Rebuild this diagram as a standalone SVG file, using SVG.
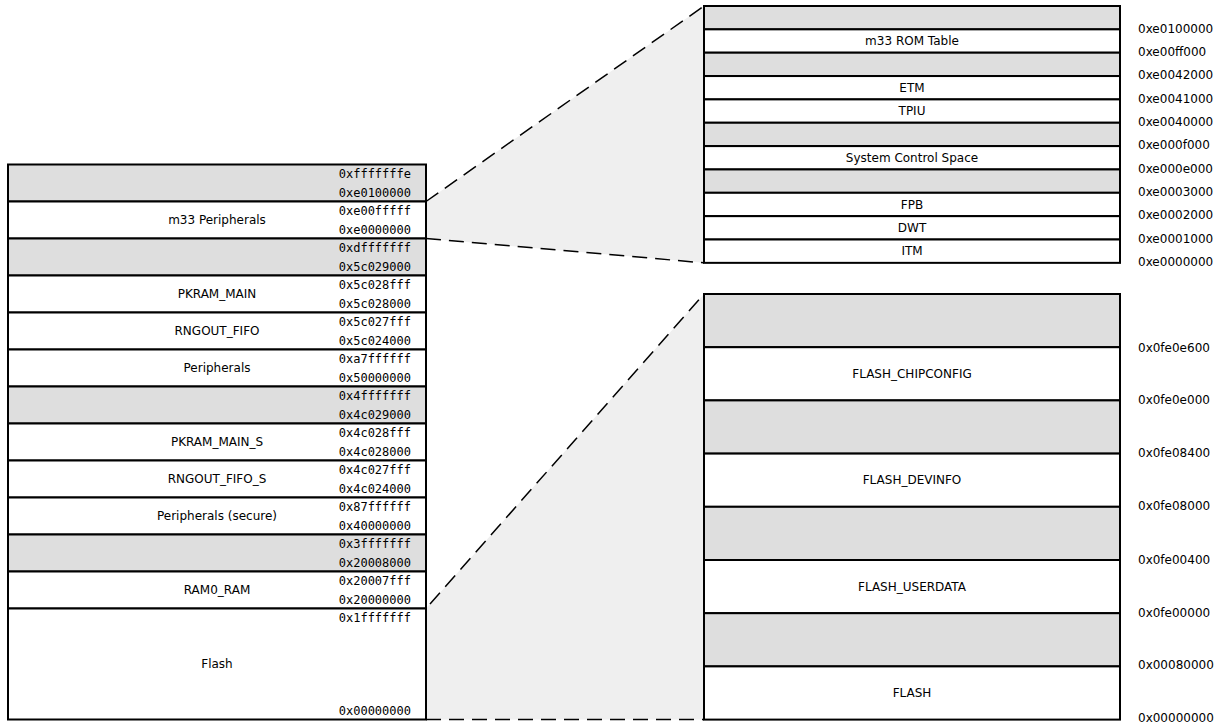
<svg xmlns="http://www.w3.org/2000/svg" width="1222" height="727" viewBox="0 0 1222 727">
<style>
.r{fill:#ffffff;stroke:#000;stroke-width:2}
.g{fill:#dedede;stroke:#000;stroke-width:2}
.l{font-family:"DejaVu Sans",sans-serif;font-size:12px;text-anchor:middle;fill:#000}
.a{font-family:"DejaVu Sans Mono",monospace;font-size:12px;text-anchor:end;fill:#000}
.ra{font-family:"DejaVu Sans",sans-serif;font-size:12px;fill:#000}
.fan{fill:#efefef;stroke:none}
.dash{fill:none;stroke:#000;stroke-width:1.5;stroke-dasharray:15,8}
</style>
<rect width="1222" height="727" fill="#fff"/>
<g id="connectors">
<polygon class="fan" points="426,201.5 704,6 704,262.85 426,238.5"/>
<polygon class="fan" points="426,608.5 704,294 704,719.6 426,719.6"/>
</g>
<g id="left-map">
<g id="l0"><rect class="g" x="8" y="164.5" width="418" height="37"/><text class="a" x="411" y="177.5">0xfffffffe</text><text class="a" x="411" y="196.5">0xe0100000</text></g>
<g id="l1"><rect class="r" x="8" y="201.5" width="418" height="37"/><text class="l" x="217" y="224">m33 Peripherals</text><text class="a" x="411" y="214.5">0xe00fffff</text><text class="a" x="411" y="233.5">0xe0000000</text></g>
<g id="l2"><rect class="g" x="8" y="238.5" width="418" height="37"/><text class="a" x="411" y="251.5">0xdfffffff</text><text class="a" x="411" y="270.5">0x5c029000</text></g>
<g id="l3"><rect class="r" x="8" y="275.5" width="418" height="37"/><text class="l" x="217" y="298">PKRAM_MAIN</text><text class="a" x="411" y="288.5">0x5c028fff</text><text class="a" x="411" y="307.5">0x5c028000</text></g>
<g id="l4"><rect class="r" x="8" y="312.5" width="418" height="37"/><text class="l" x="217" y="335">RNGOUT_FIFO</text><text class="a" x="411" y="325.5">0x5c027fff</text><text class="a" x="411" y="344.5">0x5c024000</text></g>
<g id="l5"><rect class="r" x="8" y="349.5" width="418" height="37"/><text class="l" x="217" y="372">Peripherals</text><text class="a" x="411" y="362.5">0xa7ffffff</text><text class="a" x="411" y="381.5">0x50000000</text></g>
<g id="l6"><rect class="g" x="8" y="386.5" width="418" height="37"/><text class="a" x="411" y="399.5">0x4fffffff</text><text class="a" x="411" y="418.5">0x4c029000</text></g>
<g id="l7"><rect class="r" x="8" y="423.5" width="418" height="37"/><text class="l" x="217" y="446">PKRAM_MAIN_S</text><text class="a" x="411" y="436.5">0x4c028fff</text><text class="a" x="411" y="455.5">0x4c028000</text></g>
<g id="l8"><rect class="r" x="8" y="460.5" width="418" height="37"/><text class="l" x="217" y="483">RNGOUT_FIFO_S</text><text class="a" x="411" y="473.5">0x4c027fff</text><text class="a" x="411" y="492.5">0x4c024000</text></g>
<g id="l9"><rect class="r" x="8" y="497.5" width="418" height="37"/><text class="l" x="217" y="520">Peripherals (secure)</text><text class="a" x="411" y="510.5">0x87ffffff</text><text class="a" x="411" y="529.5">0x40000000</text></g>
<g id="l10"><rect class="g" x="8" y="534.5" width="418" height="37"/><text class="a" x="411" y="547.5">0x3fffffff</text><text class="a" x="411" y="566.5">0x20008000</text></g>
<g id="l11"><rect class="r" x="8" y="571.5" width="418" height="37"/><text class="l" x="217" y="594">RAM0_RAM</text><text class="a" x="411" y="584.5">0x20007fff</text><text class="a" x="411" y="603.5">0x20000000</text></g>
<g id="l12"><rect class="r" x="8" y="608.5" width="418" height="111"/><text class="l" x="217" y="668">Flash</text><text class="a" x="411" y="621.5">0x1fffffff</text><text class="a" x="411" y="714.5">0x00000000</text></g>
</g>
<g id="m33-map">
<g id="t0"><rect class="g" x="704" y="6" width="416" height="23.35"/></g>
<g id="t1"><rect class="r" x="704" y="29.35" width="416" height="23.35"/><text class="l" x="912" y="45.2">m33 ROM Table</text></g>
<g id="t2"><rect class="g" x="704" y="52.7" width="416" height="23.35"/></g>
<g id="t3"><rect class="r" x="704" y="76.05" width="416" height="23.35"/><text class="l" x="912" y="91.9">ETM</text></g>
<g id="t4"><rect class="r" x="704" y="99.4" width="416" height="23.35"/><text class="l" x="912" y="115.2">TPIU</text></g>
<g id="t5"><rect class="g" x="704" y="122.75" width="416" height="23.35"/></g>
<g id="t6"><rect class="r" x="704" y="146.1" width="416" height="23.35"/><text class="l" x="912" y="161.9">System Control Space</text></g>
<g id="t7"><rect class="g" x="704" y="169.45" width="416" height="23.35"/></g>
<g id="t8"><rect class="r" x="704" y="192.8" width="416" height="23.35"/><text class="l" x="912" y="208.6">FPB</text></g>
<g id="t9"><rect class="r" x="704" y="216.15" width="416" height="23.35"/><text class="l" x="912" y="232">DWT</text></g>
<g id="t10"><rect class="r" x="704" y="239.5" width="416" height="23.35"/><text class="l" x="912" y="255.3">ITM</text></g>
<g id="t-addr">
<text class="ra" x="1138" y="32.5">0xe0100000</text>
<text class="ra" x="1138" y="55.8">0xe00ff000</text>
<text class="ra" x="1138" y="79.1">0xe0042000</text>
<text class="ra" x="1138" y="102.5">0xe0041000</text>
<text class="ra" x="1138" y="125.8">0xe0040000</text>
<text class="ra" x="1138" y="149.1">0xe000f000</text>
<text class="ra" x="1138" y="172.5">0xe000e000</text>
<text class="ra" x="1138" y="195.8">0xe0003000</text>
<text class="ra" x="1138" y="219.1">0xe0002000</text>
<text class="ra" x="1138" y="242.5">0xe0001000</text>
<text class="ra" x="1138" y="265.8">0xe0000000</text>
</g>
</g>
<g id="flash-map">
<g id="b0"><rect class="g" x="704" y="294" width="416" height="53.2"/></g>
<g id="b1"><rect class="r" x="704" y="347.2" width="416" height="53.2"/><text class="l" x="912" y="378">FLASH_CHIPCONFIG</text></g>
<g id="b2"><rect class="g" x="704" y="400.4" width="416" height="53.2"/></g>
<g id="b3"><rect class="r" x="704" y="453.6" width="416" height="53.2"/><text class="l" x="912" y="484.2">FLASH_DEVINFO</text></g>
<g id="b4"><rect class="g" x="704" y="506.8" width="416" height="53.2"/></g>
<g id="b5"><rect class="r" x="704" y="560" width="416" height="53.2"/><text class="l" x="912" y="590.6">FLASH_USERDATA</text></g>
<g id="b6"><rect class="g" x="704" y="613.2" width="416" height="53.2"/></g>
<g id="b7"><rect class="r" x="704" y="666.4" width="416" height="53.2"/><text class="l" x="912" y="697">FLASH</text></g>
<g id="b-addr">
<text class="ra" x="1138" y="351.5">0x0fe0e600</text>
<text class="ra" x="1138" y="404">0x0fe0e000</text>
<text class="ra" x="1138" y="457">0x0fe08400</text>
<text class="ra" x="1138" y="510">0x0fe08000</text>
<text class="ra" x="1138" y="563.5">0x0fe00400</text>
<text class="ra" x="1138" y="616.5">0x0fe00000</text>
<text class="ra" x="1138" y="669">0x00080000</text>
<text class="ra" x="1138" y="722">0x00000000</text>
</g>
</g>
<g id="connector-lines">
<line class="dash" x1="426" y1="201.5" x2="704" y2="6"/>
<line class="dash" x1="426" y1="238.5" x2="704" y2="262.85"/>
<line class="dash" x1="430" y1="604" x2="704" y2="294"/>
<line class="dash" x1="426" y1="719.6" x2="704" y2="719.6"/>
</g>
</svg>
